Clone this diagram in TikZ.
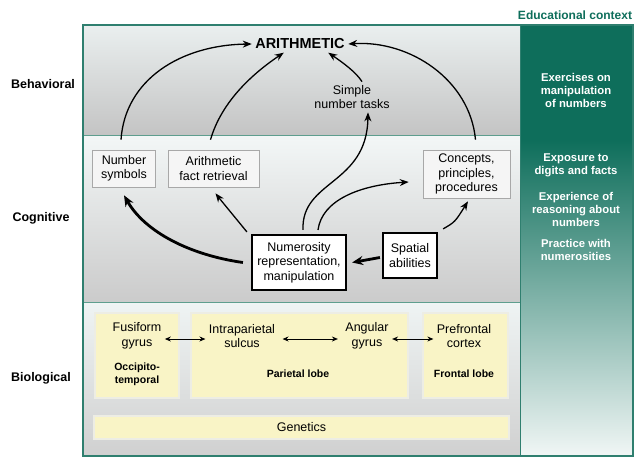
\documentclass[tikz,border=0pt]{standalone}
\usepackage{fontspec}
\setmainfont{Liberation Sans}
\usetikzlibrary{arrows.meta,calc}
\definecolor{tealA}{HTML}{0E6E5B}
\definecolor{frameC}{HTML}{2F7F6F}
\definecolor{sepC}{HTML}{5E9E8E}
\definecolor{bandAtop}{HTML}{EAEFEF}
\definecolor{bandAbot}{HTML}{C4C4C4}
\definecolor{bandBtop}{HTML}{F3F7F7}
\definecolor{bandBbot}{HTML}{CBCBCB}
\definecolor{bandCtop}{HTML}{EFF4F4}
\definecolor{bandCbot}{HTML}{D0D0D0}
\definecolor{boxgray}{HTML}{A8A8A8}
\definecolor{boxfill}{HTML}{F5F5F5}
\definecolor{yfill}{HTML}{F9F4C6}
\definecolor{yedge}{HTML}{EDEDE4}
\begin{document}
\begin{tikzpicture}[x=1pt,y=-1pt,
  lab/.style={font=\fontsize{12.5}{14.5}\selectfont\bfseries, align=center},
  txt/.style={font=\fontsize{12.5}{14.5}\selectfont, align=center},
  btxt/.style={font=\fontsize{10.5}{13}\selectfont\bfseries, align=center},
  cbox/.style={txt, draw=boxgray, fill=boxfill, line width=0.6pt, inner sep=0pt},
  tbox/.style={txt, draw=black, fill=white, line width=2.2pt, inner sep=0pt},
  ybox/.style={draw=yedge, fill=yfill, line width=1.2pt, inner sep=0pt},
  edu/.style={font=\fontsize{11.3}{13}\selectfont\bfseries, text=white, align=center},
  arr/.style={-{Stealth[length=9pt,width=7pt]}, line width=1.3pt},
  tarr/.style={-{Stealth[length=11pt,width=9pt]}, line width=2.8pt},
  darr/.style={{Stealth[length=6pt,width=5pt]}-{Stealth[length=6pt,width=5pt]}, line width=1pt}
]
\useasboundingbox (0,0) rectangle (640,464);
\fill[white] (0,0) rectangle (640,464);
% bands
\shade[top color=bandAtop, bottom color=bandAbot] (83,25) rectangle (520,135);
\shade[top color=bandBtop, bottom color=bandBbot] (83,135) rectangle (520,302);
\shade[top color=bandCtop, bottom color=bandCbot] (83,302) rectangle (520,456);
% educational column
\fill[tealA] (520,25) rectangle (633,140);
\shade[top color=tealA, middle color=tealA!58!white, bottom color=tealA!6!white] (520,140) rectangle (633,456);
% separators and frame
\draw[sepC, line width=1pt] (83,135) -- (520,135);
\draw[sepC, line width=1pt] (83,302) -- (520,302);
\draw[frameC, line width=1.5pt] (83,25) rectangle (633,456);
\draw[frameC, line width=1pt] (520,25) -- (520,456);

% level labels
\node[lab] (beh) at (43,84) {Behavioral};
\node[lab] (cog) at (41,218) {Cognitive};
\node[lab] (bio) at (41,378) {Biological};
\node[font=\fontsize{12}{14}\selectfont\bfseries, text=tealA] (educ) at (575,15) {Educational context};

% educational texts
\node[edu] (ex) at (576,90) {Exercises on\\manipulation\\of numbers};
\node[edu] (expo) at (576,165) {Exposure to\\digits and facts};
\node[edu] (expe) at (576,209) {Experience of\\reasoning about\\numbers};
\node[edu] (prac) at (576,250) {Practice with\\numerosities};

% behavioral
\node[font=\fontsize{14.5}{16}\selectfont\bfseries] (arith) at (300,44) {ARITHMETIC};
\node[txt] (simple) at (352,97) {Simple\\number tasks};

% cognitive
\node[cbox, minimum width=63, minimum height=37] (numsym) at (124,168.5) {Number\\symbols};
\node[cbox, minimum width=91, minimum height=37] (fact) at (213.5,168.5) {Arithmetic\\fact retrieval};
\node[cbox, minimum width=87, minimum height=48] (concepts) at (466.5,174) {Concepts,\\principles,\\procedures};
\node[tbox, minimum width=94, minimum height=55] (numer) at (299,262.5) {Numerosity\\representation,\\manipulation};
\node[tbox, minimum width=54, minimum height=45] (spatial) at (410,255.5) {Spatial\\abilities};

% biological
\node[ybox, minimum width=84, minimum height=85] (fusbox) at (137,355.5) {};
\node[ybox, minimum width=217, minimum height=85] (parbox) at (299.5,355.5) {};
\node[ybox, minimum width=85, minimum height=85] (frobox) at (465.5,355.5) {};
\node[ybox, txt, minimum width=415, minimum height=23] (gen) at (301.5,427.5) {Genetics};
\node[txt] (fus) at (137,336) {Fusiform\\gyrus};
\node[btxt] (occ) at (137,374) {Occipito-\\temporal};
\node[txt] (intra) at (242,336) {Intraparietal\\sulcus};
\node[txt] (ang) at (367,336) {Angular\\gyrus};
\node[txt] (pref) at (464,336) {Prefrontal\\cortex};
\node[btxt] (parl) at (298,374) {Parietal lobe};
\node[btxt] (frol) at (464,374) {Frontal lobe};

\draw[darr] ([yshift=-3pt]fus.east) -- ([yshift=-3pt]intra.west);
\draw[darr, shorten <=4pt, shorten >=4pt] ([yshift=-3pt]intra.east) -- ([yshift=-3pt]ang.west);
\draw[darr] ([yshift=-3pt]ang.east) -- ([yshift=-3pt]pref.west);

% arrows to ARITHMETIC
\draw[arr] ([xshift=-3pt,yshift=10pt]numsym.north) .. controls (125,80) and (180,45) .. (arith.west);
\draw[arr] ([xshift=-3pt,yshift=10pt]fact.north) .. controls (222,100) and (255,72) .. ($(arith.south west)+(32,0)$);
\draw[arr] ([xshift=9pt,yshift=10pt]concepts.north) .. controls (470,80) and (410,40) .. (arith.east);
\draw[arr] ([xshift=10pt]simple.north) .. controls (356,72) and (342,62) .. ($(arith.south east)+(-20,0)$);

% cognitive arrows
\draw[arr] ([xshift=4pt,yshift=4pt]numer.north) .. controls (301,180) and (367,185) .. ([xshift=16pt]simple.south);
\draw[arr] ([xshift=19pt,yshift=4pt]numer.north) .. controls (322,200) and (360,185) .. ($(concepts.west)+(-14,8)$);
\draw[arr] ($(numer.north west)+(-4,-2)$) .. controls (232,215) .. ($(fact.south)+(2,6)$);
\draw[tarr] ($(numer.west)+(-8,0)$) .. controls (190,255) and (145,232) .. ($(numsym.south)+(0,8)$);
\draw[tarr] ($(spatial.west)+(-2,2)$) -- ($(numer.east)+(5,0)$);
\draw[arr] ($(spatial.north east)+(5,-3)$) .. controls (455,222) .. ($(concepts.south)+(1.5,3)$);
\end{tikzpicture}
\end{document}
